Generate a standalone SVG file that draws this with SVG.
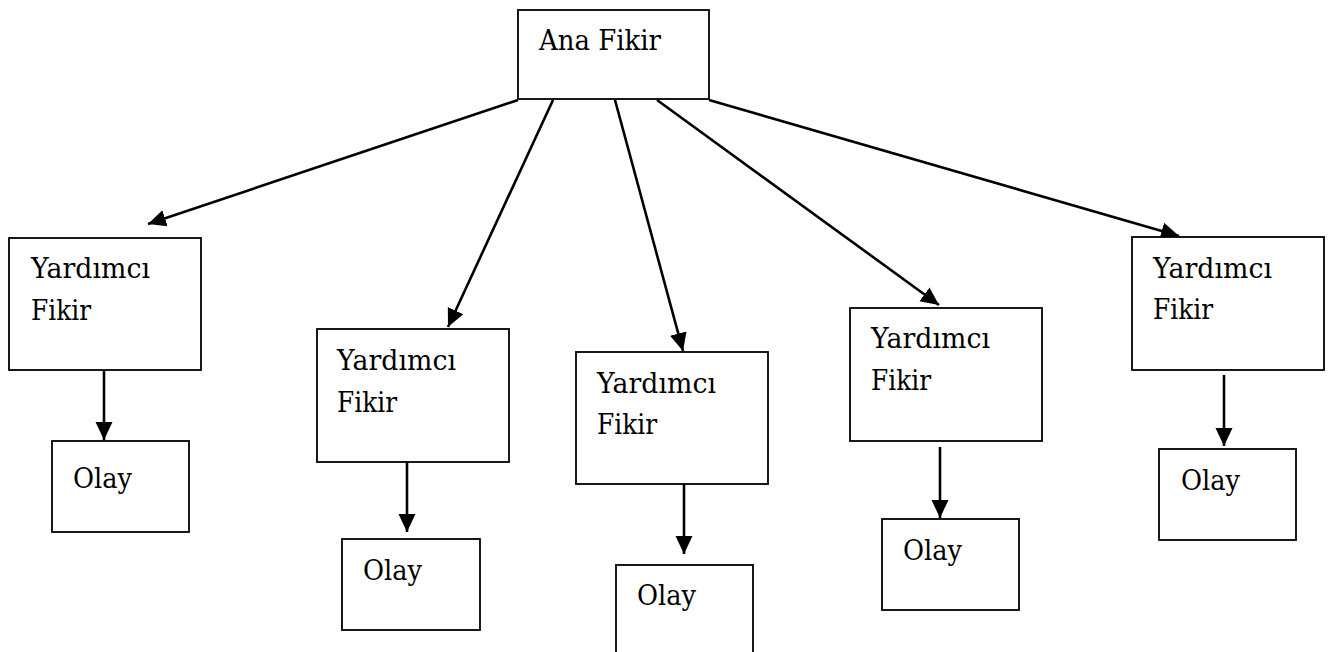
<svg xmlns="http://www.w3.org/2000/svg" width="1329" height="652" viewBox="0 0 1329 652">
<style>
.box{fill:#fff;stroke:#000;stroke-width:1.8}
.t{font-family:'DejaVu Serif','Liberation Serif','Times New Roman',serif;font-size:28px;fill:#000}
.c{stroke:#000;stroke-width:2.6;fill:none;marker-end:url(#ah)}
</style>
<defs>
<marker id="ah" markerUnits="userSpaceOnUse" markerWidth="20" markerHeight="20" viewBox="0 0 20 20" refX="18" refY="10" orient="auto">
<path d="M0,1.5 L18,10 L0,18.5 z" fill="#000"/>
</marker>
</defs>
<rect width="1329" height="652" fill="#fff"/>
<g id="connectors">
<line class="c" x1="518" y1="100" x2="148" y2="224"/>
<line class="c" x1="553" y1="100" x2="448" y2="327"/>
<line class="c" x1="615" y1="100" x2="683" y2="351"/>
<line class="c" x1="657" y1="100" x2="939" y2="305"/>
<line class="c" x1="709" y1="100" x2="1179" y2="236"/>
<line class="c" x1="104" y1="370" x2="104" y2="440"/>
<line class="c" x1="407" y1="462" x2="407" y2="532"/>
<line class="c" x1="684" y1="484" x2="684" y2="554"/>
<line class="c" x1="940" y1="447" x2="940" y2="518"/>
<line class="c" x1="1224" y1="375" x2="1224" y2="446"/>
</g>
<g id="ana">
<rect class="box" x="518" y="10" width="191" height="89"/>
<text class="t" x="539" y="50" textLength="122" lengthAdjust="spacingAndGlyphs">Ana Fikir</text>
</g>
<g id="y1">
<rect class="box" x="9" y="238" width="192" height="132"/>
<text class="t" x="31" y="278" textLength="119" lengthAdjust="spacingAndGlyphs">Yardımcı</text>
<text class="t" x="31" y="320" textLength="60" lengthAdjust="spacingAndGlyphs">Fikir</text>
</g>
<g id="o1">
<rect class="box" x="52" y="441" width="137" height="91"/>
<text class="t" x="73" y="488" textLength="59" lengthAdjust="spacingAndGlyphs">Olay</text>
</g>
<g id="y2">
<rect class="box" x="317" y="329" width="192" height="133"/>
<text class="t" x="337" y="370" textLength="119" lengthAdjust="spacingAndGlyphs">Yardımcı</text>
<text class="t" x="337" y="412" textLength="60" lengthAdjust="spacingAndGlyphs">Fikir</text>
</g>
<g id="o2">
<rect class="box" x="342" y="539" width="138" height="91"/>
<text class="t" x="363" y="580" textLength="59" lengthAdjust="spacingAndGlyphs">Olay</text>
</g>
<g id="y3">
<rect class="box" x="576" y="352" width="192" height="132"/>
<text class="t" x="597" y="393" textLength="119" lengthAdjust="spacingAndGlyphs">Yardımcı</text>
<text class="t" x="597" y="434" textLength="60" lengthAdjust="spacingAndGlyphs">Fikir</text>
</g>
<g id="o3">
<rect class="box" x="616" y="565" width="137" height="100"/>
<text class="t" x="637" y="605" textLength="59" lengthAdjust="spacingAndGlyphs">Olay</text>
</g>
<g id="y4">
<rect class="box" x="850" y="308" width="192" height="133"/>
<text class="t" x="871" y="348" textLength="119" lengthAdjust="spacingAndGlyphs">Yardımcı</text>
<text class="t" x="871" y="390" textLength="60" lengthAdjust="spacingAndGlyphs">Fikir</text>
</g>
<g id="o4">
<rect class="box" x="882" y="519" width="137" height="91"/>
<text class="t" x="903" y="560" textLength="59" lengthAdjust="spacingAndGlyphs">Olay</text>
</g>
<g id="y5">
<rect class="box" x="1132" y="237" width="192" height="133"/>
<text class="t" x="1153" y="278" textLength="119" lengthAdjust="spacingAndGlyphs">Yardımcı</text>
<text class="t" x="1153" y="319" textLength="60" lengthAdjust="spacingAndGlyphs">Fikir</text>
</g>
<g id="o5">
<rect class="box" x="1159" y="449" width="137" height="91"/>
<text class="t" x="1181" y="490" textLength="59" lengthAdjust="spacingAndGlyphs">Olay</text>
</g>
</svg>
